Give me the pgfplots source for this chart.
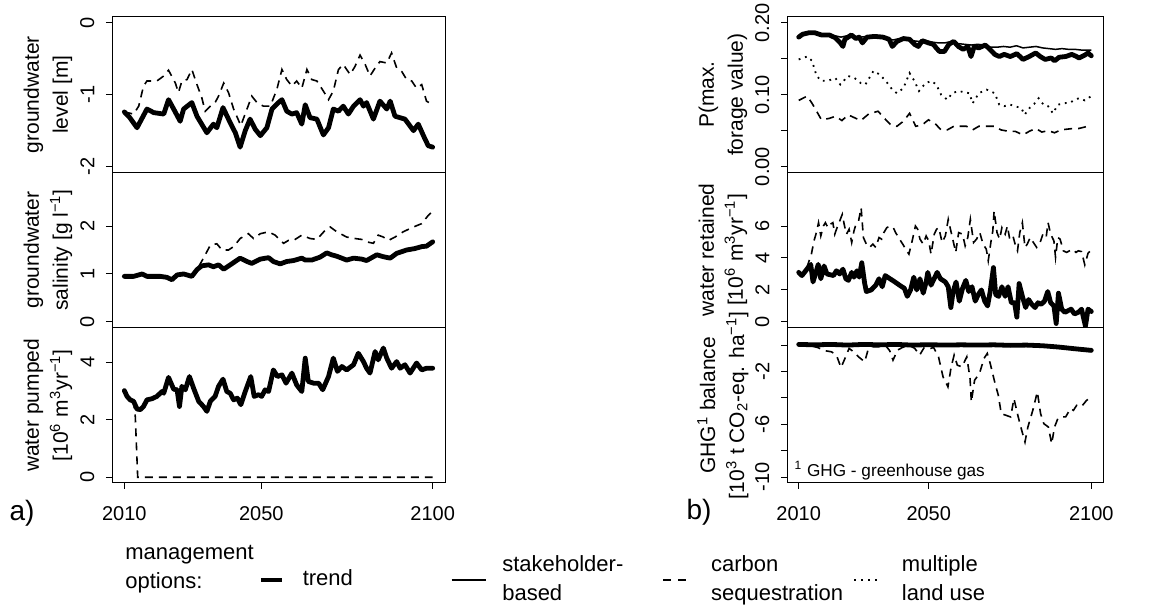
\documentclass[border=0pt]{standalone}
\usepackage{fontspec}
\setmainfont{Liberation Sans}
\usepackage{pgfplots}
\pgfplotsset{compat=1.18}
\newcommand\tickfont{\fontsize{10}{12}\selectfont}
\newcommand\labfont{\fontsize{11}{14.5}\selectfont}
\newcommand\axlabfont{\fontsize{10.5}{14.5}\selectfont}
\newcommand{\legtext}[3]{\makebox[#2][l]{\hspace*{#1}\begin{tabular}{@{}l@{}}#3\end{tabular}}}
\pgfplotsset{
  panel/.style={scale only axis, height=77.67pt, xmin=2006.4, xmax=2103.6,
    axis line style={line width=0.5pt}, tick style={black, line width=0.5pt},
    major tick length=3pt, tick align=outside, xtick pos=bottom, ytick pos=left,
    xtick=\empty,
    yticklabel style={rotate=90, anchor=south, inner sep=0pt, font=\tickfont},
    xticklabel style={anchor=north, inner sep=0pt, font=\tickfont},
    yticklabel shift=5.6pt, xticklabel shift=8.6pt,
    ylabel style={anchor=center, align=center, font=\axlabfont},
    clip=true},
  leftp/.style={panel, width=166.5pt, ylabel style={at={(axis description cs:-0.192,0.5)}}},
  rightp/.style={panel, width=158pt, ylabel style={at={(axis description cs:-0.203,0.5)}}},
  bottomx/.style={xtick={2010,2050,2100}, xticklabels={2010,2050,2100}},
  sTrend/.style={black, line width=2.4pt, line join=round, line cap=round},
  sStake/.style={black, line width=0.75pt, line join=round},
  sCarbon/.style={black, line width=0.8pt, dash pattern=on 4pt off 3pt},
  sMulti/.style={black, line width=0.9pt, dash pattern=on 0.9pt off 2.4pt},
  legThick/.style={legend image code/.code={\path[draw=none,fill=none] (0pt,-1pt) rectangle (12pt,1pt); \draw[black, solid, line width=2.4pt] (0.6pt,0pt) -- (11.4pt,0pt);}},
  legThin/.style={legend image code/.code={\path[draw=none,fill=none] (0pt,-1pt) rectangle (17pt,1pt); \draw[black, solid, line width=0.75pt] (0pt,0pt) -- (17pt,0pt);}},
  legDash/.style={legend image code/.code={\path[draw=none,fill=none] (0pt,-1pt) rectangle (12pt,1pt); \draw[black, line width=0.8pt, dash pattern=on 4pt off 3.5pt] (0.5pt,0pt) -- (12pt,0pt);}},
  legDot/.style={legend image code/.code={\path[draw=none,fill=none] (0pt,-1pt) rectangle (13.5pt,1pt); \draw[black, line width=0.9pt, dash pattern=on 0.9pt off 2.6pt] (0.5pt,0pt) -- (13.5pt,0pt);}},
}
\begin{document}
\begin{tikzpicture}
\useasboundingbox (0,0) rectangle (575.5pt,304pt);
% ---------------- left column ----------------
\begin{axis}[leftp, at={(56pt,295.5pt)}, anchor=north west,
  ymin=-2.08, ymax=0.08, ytick={-2,-1,0}, yticklabels={-2,-1,0},
  ylabel={groundwater\\level [m]}]
\addplot[sCarbon] coordinates {(2010.0,-1.24)(2012.7,-1.27)(2014.2,-1.16)(2015.6,-0.88)(2016.6,-0.81)(2019.5,-0.81)(2021.5,-0.74)(2022.9,-0.66)(2024.9,-0.84)(2025.8,-0.97)(2026.8,-0.81)(2028.3,-0.79)(2029.7,-0.65)(2031.2,-0.86)(2032.6,-1.04)(2033.6,-1.23)(2035.1,-1.16)(2036.5,-1.11)(2037.5,-1.02)(2039.0,-0.84)(2040.4,-0.97)(2041.9,-1.20)(2044.0,-1.43)(2045.8,-1.20)(2047.2,-1.02)(2048.7,-1.11)(2050.6,-1.16)(2052.6,-1.16)(2054.5,-0.93)(2056.0,-0.65)(2057.4,-0.79)(2058.9,-0.88)(2060.3,-0.81)(2061.8,-0.91)(2063.3,-0.65)(2064.7,-0.79)(2066.2,-0.81)(2068.1,-0.95)(2069.6,-1.07)(2071.0,-0.95)(2072.5,-0.65)(2073.9,-0.58)(2075.9,-0.72)(2077.3,-0.61)(2078.8,-0.45)(2080.3,-0.58)(2081.7,-0.74)(2083.2,-0.63)(2084.6,-0.54)(2086.6,-0.56)(2088.0,-0.42)(2089.5,-0.63)(2091.0,-0.68)(2092.4,-0.79)(2093.9,-0.81)(2095.3,-0.91)(2096.8,-0.86)(2098.2,-1.09)(2100.0,-1.14)};
\addplot[sTrend] coordinates {(2010.0,-1.24)(2011.6,-1.32)(2013.7,-1.46)(2016.6,-1.20)(2018.6,-1.25)(2021.5,-1.27)(2022.9,-1.07)(2024.4,-1.20)(2026.3,-1.37)(2027.3,-1.20)(2029.7,-1.11)(2031.2,-1.30)(2034.1,-1.53)(2036.0,-1.41)(2037.0,-1.46)(2038.8,-1.18)(2040.9,-1.39)(2042.4,-1.53)(2043.8,-1.73)(2045.3,-1.50)(2046.7,-1.34)(2048.2,-1.48)(2049.7,-1.57)(2051.6,-1.46)(2053.1,-1.20)(2055.0,-1.11)(2056.0,-1.07)(2057.4,-1.23)(2058.9,-1.27)(2060.3,-1.25)(2061.8,-1.41)(2062.8,-1.14)(2064.2,-1.32)(2066.2,-1.34)(2068.1,-1.56)(2069.6,-1.46)(2071.0,-1.20)(2072.5,-1.23)(2073.9,-1.16)(2075.4,-1.27)(2076.9,-1.16)(2078.8,-1.07)(2079.8,-1.16)(2080.7,-1.11)(2082.7,-1.34)(2084.6,-1.09)(2086.6,-1.20)(2087.6,-1.09)(2089.0,-1.30)(2091.9,-1.34)(2094.4,-1.50)(2095.8,-1.41)(2097.3,-1.57)(2098.7,-1.71)(2100.0,-1.73)};
\end{axis}
\begin{axis}[leftp, at={(56pt,217.83pt)}, anchor=north west,
  ymin=-0.12, ymax=3.12, ytick={0,1,2}, yticklabels={0,1,2},
  ylabel={groundwater\\salinity [g l\textsuperscript{−1}]}]
\addplot[sCarbon] coordinates {(2010.0,0.95)(2012.7,0.95)(2015.2,1.0)(2016.6,0.95)(2020.5,0.95)(2022.4,0.93)(2023.9,0.88)(2025.4,0.98)(2027.3,1.0)(2029.7,0.95)(2031.2,1.09)(2033.1,1.33)(2035.1,1.60)(2037.0,1.63)(2038.5,1.50)(2040.4,1.50)(2041.9,1.57)(2043.8,1.74)(2046.2,1.84)(2047.7,1.74)(2049.7,1.84)(2052.1,1.88)(2054.0,1.81)(2056.5,1.64)(2057.9,1.70)(2059.4,1.70)(2061.8,1.81)(2064.2,1.74)(2066.2,1.72)(2068.6,1.91)(2070.1,1.98)(2072.0,1.88)(2074.9,1.77)(2077.3,1.74)(2079.3,1.72)(2080.7,1.67)(2082.7,1.64)(2084.1,1.81)(2085.6,1.77)(2087.1,1.70)(2089.0,1.77)(2091.4,1.88)(2094.4,1.98)(2096.8,2.05)(2098.7,2.22)(2100.0,2.31)};
\addplot[sTrend] coordinates {(2010.0,0.95)(2012.7,0.95)(2015.2,1.0)(2016.6,0.95)(2020.5,0.95)(2022.4,0.93)(2023.9,0.88)(2025.4,0.98)(2027.3,1.0)(2029.7,0.95)(2031.2,1.09)(2032.6,1.17)(2034.6,1.19)(2036.0,1.15)(2037.5,1.19)(2039.0,1.10)(2040.9,1.19)(2043.8,1.33)(2045.8,1.26)(2047.2,1.22)(2049.7,1.31)(2052.1,1.34)(2053.5,1.26)(2055.5,1.21)(2057.4,1.26)(2059.4,1.28)(2061.8,1.33)(2062.8,1.29)(2064.7,1.29)(2067.1,1.35)(2069.1,1.44)(2070.5,1.40)(2072.0,1.37)(2074.9,1.29)(2076.9,1.33)(2079.3,1.31)(2080.7,1.28)(2083.7,1.40)(2085.6,1.36)(2087.6,1.33)(2089.5,1.43)(2092.4,1.50)(2094.8,1.53)(2096.8,1.57)(2098.2,1.58)(2100.0,1.67)};
\end{axis}
\begin{axis}[leftp, bottomx, at={(56pt,140.17pt)}, anchor=north west,
  ymin=-0.2, ymax=5.2, ytick={0,2,4}, yticklabels={0,2,4},
  ylabel={water pumped\\{[}10\textsuperscript{6} m\textsuperscript{3}yr\textsuperscript{−1}{]}},
  legend cell align=left,
  legend style={draw=none, fill=none, inner sep=0pt, font=\labfont,
    nodes={inner sep=0pt, text depth={}}, column sep=0pt,
    at={(0.4384,-0.6245)}, anchor=west},
  legend columns=4]
\addlegendimage{legThick}\addlegendentry{\legtext{9pt}{83pt}{trend}}
\addlegendimage{legThin}\addlegendentry{\legtext{8pt}{88pt}{stakeholder-\\based}}
\addlegendimage{legDash}\addlegendentry{\legtext{12pt}{83pt}{carbon\\sequestration}}
\addlegendimage{legDot}\addlegendentry{\legtext{10.5pt}{70pt}{multiple\\land use}}
\addplot[sCarbon, forget plot] coordinates {(2010.0,3.01)(2010.8,2.81)(2011.7,2.69)(2012.7,2.64)(2013.2,2.10)(2013.9,0)(2100,0)};
\addplot[sTrend, forget plot] coordinates {(2010.0,3.01)(2010.8,2.81)(2011.7,2.69)(2012.7,2.64)(2013.7,2.37)(2014.7,2.35)(2015.6,2.46)(2016.6,2.69)(2018.1,2.73)(2019.5,2.81)(2021.0,2.98)(2021.5,2.92)(2022.9,3.47)(2024.4,3.06)(2025.4,3.04)(2026.1,2.46)(2026.8,3.16)(2027.8,3.04)(2029.0,3.50)(2030.2,3.10)(2031.7,2.64)(2033.1,2.46)(2034.1,2.29)(2035.1,2.64)(2036.5,2.81)(2037.5,3.16)(2038.8,3.41)(2039.9,2.98)(2040.9,2.92)(2041.9,2.69)(2043.0,2.75)(2044.0,2.52)(2045.3,2.98)(2046.9,3.50)(2047.9,2.81)(2049.2,2.87)(2050.1,2.81)(2051.1,3.04)(2052.1,2.98)(2053.5,3.73)(2054.7,3.50)(2056.0,3.56)(2057.2,3.27)(2058.9,3.62)(2060.3,3.21)(2061.8,2.98)(2062.8,4.14)(2063.7,3.33)(2065.2,3.27)(2066.7,3.27)(2067.9,3.04)(2069.6,3.50)(2071.0,4.14)(2072.2,3.68)(2073.5,3.85)(2074.9,3.73)(2076.9,3.91)(2078.3,4.31)(2079.8,4.02)(2080.7,3.79)(2081.7,3.62)(2083.2,4.37)(2084.1,4.08)(2085.6,4.49)(2086.6,4.14)(2088.0,3.79)(2089.5,4.02)(2090.5,3.79)(2091.9,3.91)(2093.4,3.62)(2095.3,3.97)(2096.8,3.73)(2098.2,3.79)(2100.0,3.79)};
\end{axis}
% ---------------- right column ----------------
\begin{axis}[rightp, at={(393.5pt,295.5pt)}, anchor=north west,
  ymin=-0.008, ymax=0.208, ytick={0,0.05,0.1,0.15,0.2}, yticklabels={0.00,,0.10,,0.20},
  ylabel={P(max.\\forage value)}]
\addplot[sCarbon] coordinates {(2010.0,0.092)(2012.6,0.098)(2014.1,0.088)(2015.5,0.077)(2017.0,0.065)(2019.4,0.067)(2021.3,0.070)(2023.3,0.064)(2025.2,0.072)(2027.6,0.067)(2029.1,0.064)(2031.5,0.073)(2034.4,0.077)(2036.4,0.067)(2038.3,0.058)(2040.2,0.056)(2042.2,0.063)(2044.1,0.074)(2046.0,0.056)(2048.0,0.058)(2049.9,0.065)(2051.9,0.060)(2053.8,0.051)(2055.7,0.051)(2057.7,0.056)(2061.6,0.056)(2063.5,0.051)(2065.4,0.056)(2070.3,0.056)(2072.2,0.051)(2074.6,0.049)(2076.6,0.049)(2079.0,0.044)(2080.9,0.049)(2082.9,0.053)(2084.8,0.048)(2086.7,0.050)(2088.7,0.047)(2090.6,0.051)(2094.5,0.053)(2096.2,0.053)(2098.0,0.055)(2100.0,0.058)};
\addplot[sMulti] coordinates {(2010.0,0.149)(2012.6,0.153)(2014.1,0.147)(2015.5,0.126)(2017.0,0.119)(2019.4,0.120)(2021.3,0.123)(2022.8,0.114)(2025.2,0.126)(2027.2,0.123)(2029.1,0.116)(2030.5,0.114)(2033.0,0.133)(2034.9,0.128)(2036.8,0.119)(2038.8,0.107)(2040.2,0.102)(2042.2,0.109)(2044.1,0.130)(2045.6,0.119)(2047.0,0.105)(2049.0,0.116)(2050.9,0.119)(2052.3,0.114)(2053.8,0.100)(2055.7,0.093)(2057.2,0.102)(2059.1,0.105)(2062.5,0.102)(2063.5,0.088)(2065.4,0.102)(2067.8,0.107)(2070.3,0.102)(2071.7,0.086)(2073.2,0.084)(2075.1,0.086)(2076.6,0.084)(2078.5,0.081)(2079.5,0.072)(2080.9,0.081)(2082.4,0.087)(2083.8,0.095)(2085.3,0.086)(2086.7,0.084)(2088.2,0.074)(2089.7,0.086)(2091.6,0.088)(2093.5,0.089)(2095.0,0.093)(2096.2,0.095)(2098.0,0.092)(2100.0,0.098)};
\addplot[sTrend] coordinates {(2010.0,0.180)(2011.2,0.184)(2013.1,0.186)(2015.0,0.186)(2017.0,0.183)(2019.4,0.183)(2021.3,0.179)(2022.8,0.172)(2023.6,0.167)(2024.2,0.177)(2026.2,0.183)(2027.6,0.178)(2028.6,0.180)(2029.6,0.172)(2031.0,0.180)(2033.4,0.181)(2035.9,0.180)(2037.8,0.177)(2038.8,0.167)(2040.2,0.174)(2042.2,0.178)(2044.1,0.177)(2045.6,0.170)(2046.8,0.167)(2048.0,0.175)(2049.9,0.172)(2051.4,0.170)(2052.3,0.165)(2053.3,0.160)(2054.8,0.160)(2056.2,0.170)(2057.7,0.174)(2059.1,0.167)(2060.6,0.163)(2062.0,0.167)(2063.0,0.153)(2064.0,0.167)(2065.4,0.165)(2067.4,0.169)(2068.8,0.163)(2070.3,0.156)(2071.7,0.153)(2073.2,0.156)(2075.1,0.153)(2077.1,0.157)(2079.0,0.149)(2080.9,0.153)(2082.9,0.158)(2084.3,0.153)(2085.8,0.149)(2087.7,0.151)(2088.7,0.147)(2090.1,0.152)(2092.1,0.153)(2094.0,0.156)(2095.5,0.153)(2096.2,0.151)(2098.0,0.155)(2099.0,0.158)(2100.0,0.154)};
\addplot[sStake] coordinates {(2010,0.181)(2011.5,0.185)(2013,0.187)(2015,0.186)(2017,0.184)(2019,0.184)(2021,0.182)(2023,0.180)(2025,0.182)(2027,0.181)(2029,0.180)(2031,0.181)(2033,0.181)(2035,0.180)(2037,0.178)(2039,0.176)(2041,0.178)(2043,0.177)(2045,0.175)(2047,0.174)(2049,0.175)(2051,0.173)(2053,0.172)(2055,0.172)(2057,0.174)(2059,0.171)(2061,0.170)(2063,0.169)(2065,0.170)(2067,0.169)(2069,0.166)(2071,0.166)(2073,0.167)(2075,0.166)(2077,0.168)(2079,0.165)(2081,0.166)(2083,0.167)(2085,0.165)(2087,0.164)(2089,0.163)(2091,0.164)(2093,0.163)(2095,0.163)(2097,0.162)(2100,0.162)};
\end{axis}
\begin{axis}[rightp, at={(393.5pt,217.83pt)}, anchor=north west,
  ymin=-0.36, ymax=9.36, ytick={0,2,4,6}, yticklabels={0,2,4,6},
  ylabel={water retained\\{[}10\textsuperscript{6} m\textsuperscript{3}yr\textsuperscript{−1}{]}}]
\addplot[sCarbon] coordinates {(2010.0,3.1)(2011.0,2.9)(2012.5,3.4)(2013.9,4.24)(2014.7,5.07)(2015.3,5.49)(2016.1,6.21)(2016.8,5.38)(2017.6,6.00)(2018.2,6.21)(2019.0,5.90)(2019.7,6.11)(2020.5,6.21)(2021.1,5.49)(2021.8,5.90)(2022.6,6.31)(2023.4,6.73)(2024.1,6.00)(2024.7,5.49)(2025.5,5.80)(2026.3,4.97)(2027.0,5.69)(2027.6,6.11)(2028.4,6.31)(2029.2,7.14)(2029.9,5.28)(2030.8,4.87)(2031.8,4.66)(2032.8,4.87)(2033.7,4.66)(2034.7,5.28)(2035.5,5.18)(2036.2,5.59)(2037.1,5.90)(2038.1,6.00)(2039.1,5.90)(2039.8,5.59)(2041.0,5.18)(2042.0,4.87)(2042.9,4.55)(2043.9,4.24)(2044.9,5.07)(2045.9,6.00)(2046.6,5.80)(2047.3,5.18)(2048.3,4.87)(2049.2,5.38)(2050.0,5.07)(2050.7,4.24)(2051.7,5.49)(2052.4,5.80)(2053.1,5.90)(2054.1,4.97)(2055.1,5.38)(2056.0,6.42)(2056.8,5.69)(2057.5,5.07)(2058.3,4.35)(2059.2,5.59)(2060.4,5.49)(2061.2,4.76)(2062.0,5.28)(2062.8,6.42)(2063.8,4.97)(2064.7,5.18)(2065.7,5.59)(2066.7,4.87)(2067.7,4.55)(2068.3,3.83)(2069.1,4.97)(2069.7,5.69)(2070.1,6.94)(2071.0,5.59)(2071.8,5.18)(2072.5,5.90)(2073.5,5.49)(2074.2,6.00)(2074.9,5.18)(2075.9,5.38)(2076.7,4.76)(2077.3,4.45)(2078.0,5.59)(2078.8,6.21)(2079.6,4.66)(2080.3,4.87)(2081.2,5.28)(2082.2,4.97)(2083.2,4.66)(2084.1,4.87)(2085.1,5.49)(2086.1,5.28)(2086.7,6.21)(2087.5,5.49)(2088.5,5.07)(2089.0,4.04)(2089.7,5.28)(2090.4,5.18)(2091.4,4.45)(2092.4,4.35)(2093.3,4.45)(2094.3,4.55)(2095.3,4.35)(2096.0,4.45)(2097.0,4.40)(2098.0,3.57)(2099.0,4.30)(2100.0,4.50)};
\addplot[sTrend] coordinates {(2010.0,3.1)(2011.0,2.9)(2012.9,3.4)(2013.7,3.6)(2014.4,2.5)(2015.3,3.1)(2016.0,3.6)(2016.8,2.7)(2017.8,3.5)(2018.7,3.0)(2020.7,2.9)(2021.6,3.2)(2022.6,3.0)(2023.6,3.3)(2024.5,2.7)(2025.3,2.6)(2026.3,3.1)(2027.0,2.8)(2027.9,3.2)(2028.6,2.8)(2029.4,3.7)(2030.3,2.4)(2030.8,1.9)(2032.3,2.0)(2033.7,2.3)(2034.7,2.7)(2035.7,2.2)(2036.6,2.9)(2038.1,2.7)(2039.6,2.5)(2041.0,2.3)(2042.5,2.1)(2043.4,1.6)(2044.4,2.0)(2045.4,2.8)(2046.3,2.0)(2047.3,2.7)(2048.3,1.8)(2049.2,2.5)(2049.7,3.1)(2050.7,2.3)(2052.6,3.1)(2053.6,2.7)(2055.1,2.5)(2056.0,2.2)(2056.8,0.9)(2057.5,1.9)(2058.4,2.5)(2059.4,1.3)(2060.4,2.1)(2061.4,2.6)(2062.3,1.9)(2063.3,2.2)(2064.3,1.3)(2065.2,1.7)(2066.2,2.0)(2067.2,1.3)(2068.1,1.0)(2068.9,1.9)(2069.9,3.4)(2070.6,1.7)(2071.5,1.6)(2072.5,2.2)(2073.5,1.6)(2074.4,2.2)(2075.4,1.2)(2076.4,1.2)(2077.1,0.3)(2077.8,2.4)(2078.8,1.6)(2079.8,0.9)(2080.7,1.4)(2081.7,1.1)(2082.7,0.9)(2083.6,1.2)(2084.6,1.1)(2085.6,1.3)(2086.6,1.9)(2087.5,1.2)(2088.5,1.0)(2089.2,-0.1)(2089.9,1.8)(2090.9,0.8)(2091.9,0.6)(2092.8,0.7)(2093.8,0.8)(2094.8,0.5)(2096.0,0.6)(2097.0,0.8)(2098.2,-0.27)(2099.0,0.8)(2100.0,0.65)};
\end{axis}
\begin{axis}[rightp, bottomx, at={(393.5pt,140.17pt)}, anchor=north west,
  ymin=-10.44, ymax=1.32, ytick={0,-2,-4,-6,-8,-10}, yticklabels={,-2,,-6,,-10},
  ylabel={GHG\textsuperscript{1} balance\\{[}10\textsuperscript{3} t CO\textsubscript{2}-eq. ha\textsuperscript{−1}{]}}]
\addplot[sCarbon] coordinates {(2010.0,0)(2012.9,0)(2015.8,-0.18)(2018.2,-0.43)(2020.1,-0.51)(2021.6,-0.76)(2023.0,-1.70)(2024.0,-1.14)(2025.5,-0.25)(2026.9,-0.51)(2028.4,-0.89)(2030.3,-1.27)(2031.3,-0.38)(2032.7,-0.13)(2034.6,-0.13)(2036.6,0)(2038.0,-0.43)(2039.0,-1.14)(2040.4,-0.38)(2041.9,-0.18)(2043.8,0)(2045.7,-0.25)(2047.2,-0.76)(2048.6,-0.18)(2050.6,-0.25)(2051.5,-0.18)(2053.0,-0.89)(2054.4,-2.41)(2055.9,-3.16)(2056.9,-1.65)(2057.8,-0.76)(2058.8,-1.52)(2060.2,-1.65)(2061.7,-0.89)(2062.7,-2.53)(2063.1,-4.30)(2064.1,-2.66)(2065.6,-2.15)(2067.0,-1.01)(2068.0,-0.63)(2068.9,-1.39)(2070.4,-2.91)(2071.4,-3.80)(2072.3,-5.19)(2073.8,-5.32)(2075.2,-5.44)(2076.2,-4.05)(2077.4,-5.32)(2078.6,-6.46)(2079.6,-7.34)(2080.5,-6.20)(2082.0,-4.94)(2083.4,-3.54)(2084.4,-5.19)(2085.4,-5.95)(2086.8,-6.20)(2087.8,-7.47)(2088.7,-6.20)(2089.7,-5.57)(2090.7,-5.44)(2092.1,-5.44)(2093.6,-4.81)(2094.5,-4.94)(2095.5,-4.56)(2097.0,-4.65)(2098.5,-4.20)(2100.0,-3.90)};
\addplot[sTrend] coordinates {(2010,0.05)(2015,0.02)(2020,0.05)(2025,0.0)(2030,0.05)(2035,0.02)(2040,0.05)(2045,0.0)(2050,0.03)(2055,0.0)(2060,0.02)(2065,0.0)(2070,0.02)(2075,-0.02)(2080,0.0)(2085,-0.05)(2090,-0.15)(2095,-0.28)(2100,-0.4)};
\node[anchor=west, inner sep=0pt, font=\fontsize{8.6}{10}\selectfont] at (axis cs:2008.6,-9.5) {\textsuperscript{1} GHG - greenhouse gas};
\end{axis}
% ---------------- texts ----------------
\node[font=\fontsize{14}{16}\selectfont, inner sep=0pt] at (11pt,47.5pt) {a)};
\node[font=\fontsize{14}{16}\selectfont, inner sep=0pt] at (349.5pt,48pt) {b)};
\node[anchor=west, align=left, font=\labfont, inner sep=0pt] at (62.5pt,19.5pt) {management\\options:};
\end{tikzpicture}
\end{document}
